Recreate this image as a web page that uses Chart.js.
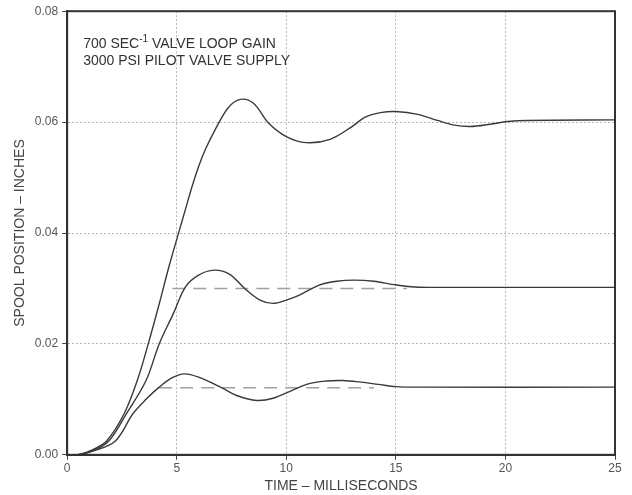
<!DOCTYPE html>
<html>
<head>
<meta charset="utf-8">
<script src="https://cdn.jsdelivr.net/npm/chart.js@4"></script>
<style>
  html, body { margin: 0; padding: 0; background: #fff; }
  #wrap { width: 632px; height: 495px; }
</style>
</head>
<body>
<div id="wrap"><canvas id="chart" width="632" height="495"></canvas></div>
<script>
// values (time in ms, spool position in inches)
const xTicks = [0, 5, 10, 15, 20, 25];
const yTicks = [0, 0.02, 0.04, 0.06, 0.08];

const topTime = [0, 0.5, 1.2, 1.8, 2.6, 3.2, 3.7, 4.2, 4.65, 5.1, 5.4, 5.7, 6.0, 6.3, 6.75, 7.35, 7.9, 8.5, 9.2, 10.0, 10.9, 12.0, 13.0, 13.6, 14.3, 15.0, 16.0, 16.9, 17.6, 18.4, 19.3, 20.1, 21.0, 25];
const topVal  = [0, 0, 0.0010, 0.0025, 0.0074, 0.0134, 0.0200, 0.0272, 0.0340, 0.0402, 0.0443, 0.0484, 0.0520, 0.0550, 0.0586, 0.0626, 0.0641, 0.0634, 0.0598, 0.0574, 0.0563, 0.0569, 0.0592, 0.0609, 0.0617, 0.0619, 0.0614, 0.0603, 0.0595, 0.0592, 0.0596, 0.0601, 0.0603, 0.0604];

const midTime = [0, 0.5, 1.2, 1.9, 2.7, 3.6, 4.2, 4.85, 5.4, 6.0, 6.7, 7.4, 8.1, 8.8, 9.4, 10.0, 10.6, 11.5, 12.3, 13.1, 14.0, 14.9, 15.7, 16.5, 25];
const midVal  = [0, 0, 0.0008, 0.0025, 0.0074, 0.0134, 0.0200, 0.0255, 0.0303, 0.0324, 0.0333, 0.0326, 0.0300, 0.0279, 0.0273, 0.0279, 0.0288, 0.0306, 0.0313, 0.0315, 0.0313, 0.0307, 0.0303, 0.0302, 0.0302];

const lowTime = [0, 0.5, 1.2, 2.2, 3.0, 3.6, 4.2, 4.8, 5.35, 6.0, 7.0, 7.8, 8.65, 9.4, 10.2, 11.0, 11.8, 12.6, 13.4, 14.2, 15.0, 16.0, 25];
const lowVal  = [0, 0, 0.0007, 0.0025, 0.0074, 0.0100, 0.0122, 0.0139, 0.0146, 0.0140, 0.0122, 0.0106, 0.0098, 0.0102, 0.0115, 0.0128, 0.0133, 0.0134, 0.0131, 0.0127, 0.0123, 0.0122, 0.0122];

// dashed reference levels
const midRefTime = [4.8, 15.5];
const midRefVal  = [0.030, 0.030];
const lowRefTime = [4.2, 14.0];
const lowRefVal  = [0.0121, 0.0121];

const pts = (xs, ys) => xs.map((x, i) => ({ x: x, y: ys[i] }));

const curve = (xs, ys) => ({
  data: pts(xs, ys),
  borderColor: '#3a3a3a',
  borderWidth: 1.4,
  pointRadius: 0,
  tension: 0.35,
  fill: false
});

const dashed = (xs, ys) => ({
  data: pts(xs, ys),
  borderColor: '#a0a0a0',
  borderWidth: 1.6,
  borderDash: [13, 8],
  pointRadius: 0,
  fill: false
});

// frame + annotation text
const framePlugin = {
  id: 'frame',
  afterDraw(chart) {
    const { ctx, chartArea: a } = chart;
    ctx.save();
    ctx.strokeStyle = '#333';
    ctx.lineWidth = 2;
    ctx.strokeRect(a.left, a.top, a.right - a.left, a.bottom - a.top);

    ctx.fillStyle = '#333';
    ctx.textBaseline = 'alphabetic';
    let x = a.left + 16, y = a.top + 37;
    ctx.font = '14px "Liberation Sans", Arial, sans-serif';
    ctx.fillText('700 SEC', x, y);
    x += ctx.measureText('700 SEC').width;
    ctx.font = '10px "Liberation Sans", Arial, sans-serif';
    ctx.fillText('-1', x, y - 6);
    x += ctx.measureText('-1').width;
    ctx.font = '14px "Liberation Sans", Arial, sans-serif';
    ctx.fillText(' VALVE LOOP GAIN', x, y);
    ctx.fillText('3000 PSI PILOT VALVE SUPPLY', a.left + 16, y + 17);
    ctx.restore();
  }
};

const ctx = document.getElementById('chart').getContext('2d');
const chart = new Chart(ctx, {
  type: 'line',
  data: {
    datasets: [
      curve(topTime, topVal),
      curve(midTime, midVal),
      curve(lowTime, lowVal),
      dashed(midRefTime, midRefVal),
      dashed(lowRefTime, lowRefVal)
    ]
  },
  options: {
    responsive: false,
    animation: false,
    layout: { padding: { left: 12, right: 17, top: 5, bottom: 0 } },
    plugins: { legend: { display: false }, tooltip: { enabled: false } },
    scales: {
      x: {
        type: 'linear',
        min: 0, max: 25,
        afterBuildTicks: (s) => { s.ticks = xTicks.map(v => ({ value: v })); },
        ticks: { color: '#555', font: { size: 12, family: '"Liberation Sans", Arial, sans-serif' }, padding: 2 },
        grid: { color: '#b8b8b8', tickColor: '#444', tickLength: 5, lineWidth: 1 },
        border: { color: '#333', width: 2, dash: [2, 2] },
        title: { display: true, text: 'TIME – MILLISECONDS', color: '#444', padding: { top: 0, bottom: 0 },
                 font: { size: 14, family: '"Liberation Sans", Arial, sans-serif' } }
      },
      y: {
        type: 'linear',
        min: 0, max: 0.08,
        afterBuildTicks: (s) => { s.ticks = yTicks.map(v => ({ value: v })); },
        ticks: { color: '#555', font: { size: 12, family: '"Liberation Sans", Arial, sans-serif' }, padding: 4,
                 callback: (v) => v.toFixed(2) },
        grid: { color: '#b8b8b8', tickColor: '#444', tickLength: 5, lineWidth: 1 },
        border: { color: '#333', width: 2, dash: [2, 2] },
        title: { display: true, text: 'SPOOL POSITION – INCHES', color: '#444', padding: { top: 0, bottom: 2 },
                 font: { size: 14, family: '"Liberation Sans", Arial, sans-serif' } }
      }
    }
  },
  plugins: [framePlugin]
});
</script>
</body>
</html>
